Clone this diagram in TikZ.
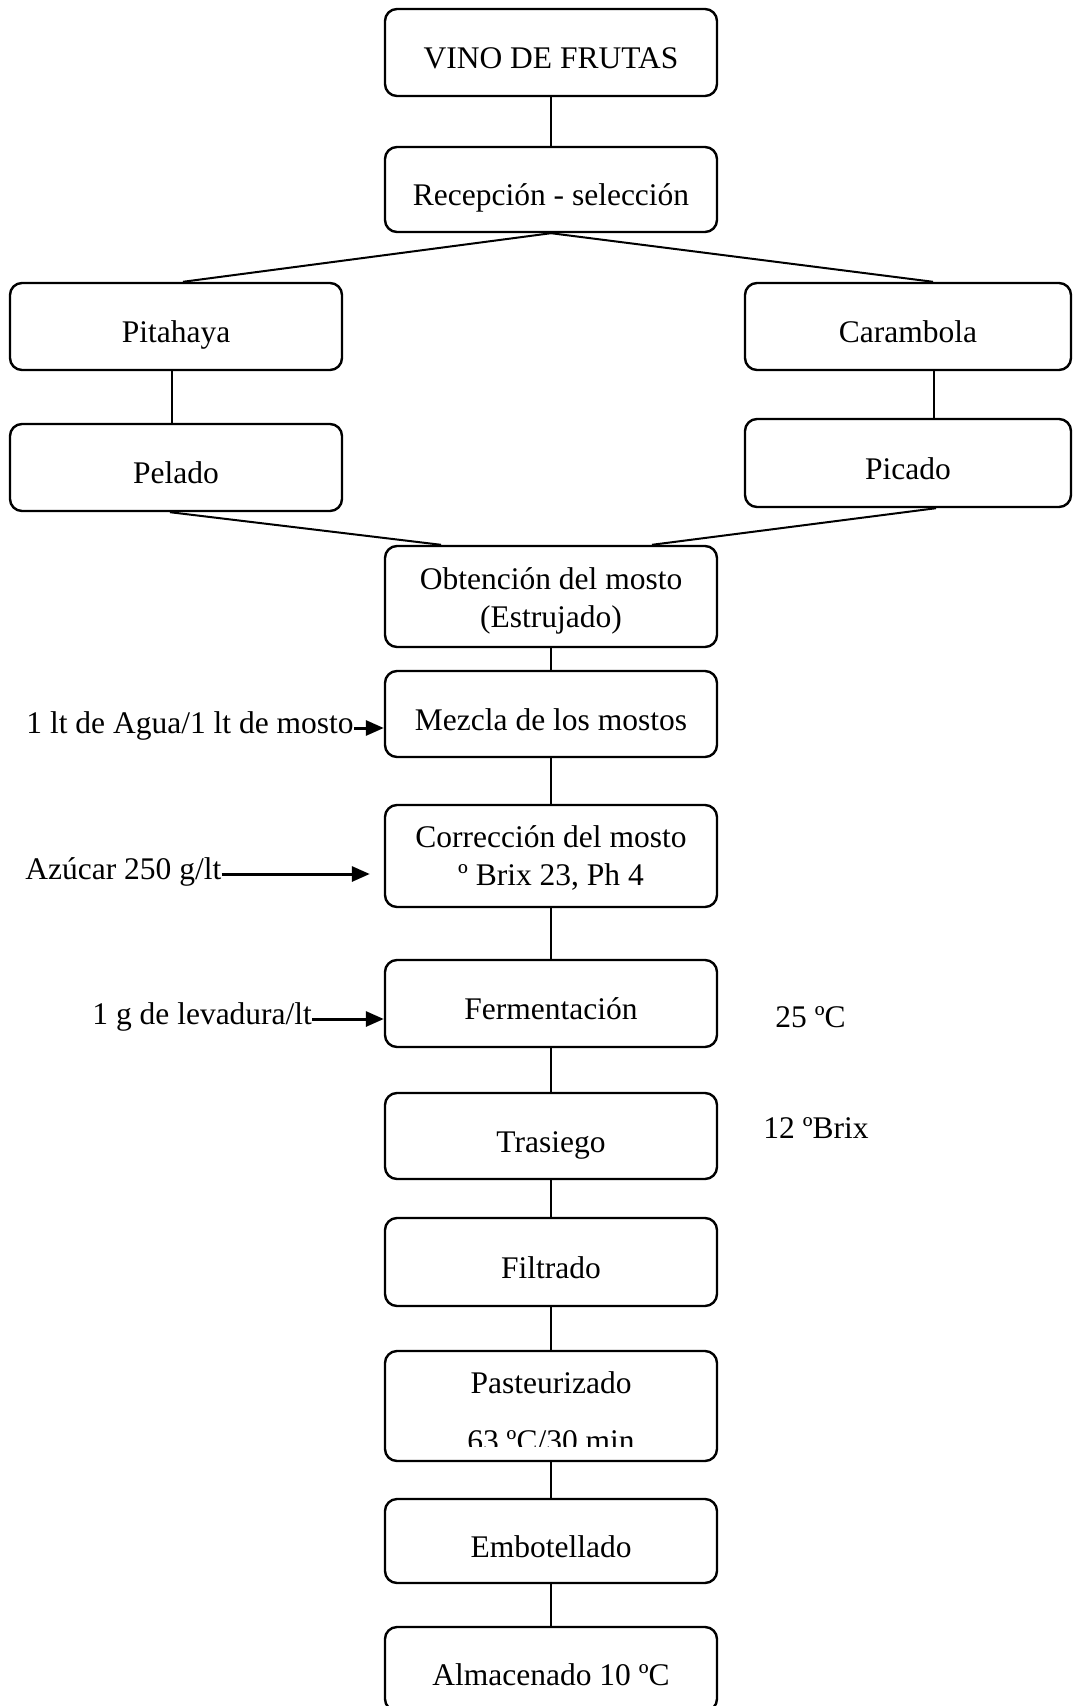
\documentclass[tikz,border=0pt]{standalone}
\usepackage{fontspec}
\setmainfont{Liberation Serif}
\usetikzlibrary{arrows.meta,calc}
\begin{document}
\begin{tikzpicture}[x=0.5pt,y=-0.5pt,
  every node/.style={font=\fontsize{15.75}{19}\selectfont, inner sep=0pt},
  box/.style={draw, line width=1.2pt, rounded corners=6pt, minimum width=166pt, text height=16pt, text depth=0pt},
  side/.style={text height=8pt, text depth=3pt},
  conn/.style={line width=1pt},
  arr/.style={line width=1.5pt, -{Triangle[length=9pt,width=7.5pt]}}
]
\useasboundingbox (0,0) rectangle (1072,1706);

% boxes
\node[box, minimum height=43.5pt] (vino) at (551,52.5) {VINO DE FRUTAS};
\node[box, minimum height=42.5pt] (rec) at (551,189.5) {Recepción - selección};
\node[box, minimum height=43.5pt] (pit) at (176,326.5) {Pitahaya};
\node[box, minimum height=43.5pt] (pel) at (176,467.5) {Pelado};
\node[box, minimum height=43.5pt, minimum width=163pt] (car) at (908,326.5) {Carambola};
\node[box, minimum height=44pt, minimum width=163pt] (pic) at (908,463) {Picado};
\node[box, minimum height=50.5pt] (obt) at (551,596.5) {};
\node[anchor=base] (obt1) at (551,589) {Obtención del mosto};
\node[anchor=base] (obt2) at (551,627) {(Estrujado)};
\node[box, minimum height=43pt] (mez) at (551,714) {Mezcla de los mostos};
\node[box, minimum height=51pt] (cor) at (551,856) {};
\node[anchor=base] (cor1) at (551,847) {Corrección del mosto};
\node[anchor=base] (cor2) at (551,885) {º Brix 23, Ph 4};
\node[box, minimum height=43.5pt] (fer) at (551,1003.5) {Fermentación};
\node[box, minimum height=43pt] (tra) at (551,1136) {Trasiego};
\node[box, minimum height=44pt] (fil) at (551,1262) {Filtrado};
\node[box, minimum height=55pt] (pas) at (551,1406) {};
\node[anchor=base] (pas1) at (551,1393) {Pasteurizado};
\begin{scope}
  \clip (380,1355) rectangle (720,1446);
  \node[anchor=base] (pas2) at (551,1451) {63 ºC/30 min};
\end{scope}
\node[box, minimum height=42pt] (emb) at (551,1541) {Embotellado};
\node[box, minimum height=42pt] (alm) at (551,1669) {Almacenado 10 ºC};

% side texts
\node[side, anchor=base west] (agua) at (26,733) {1 lt de Agua/1 lt de mosto};
\node[side, anchor=base west] (azu) at (25,879) {Azúcar 250 g/lt};
\node[side, anchor=base west] (lev) at (92,1024) {1 g de levadura/lt};
\node[anchor=base west] (t25) at (775,1027) {25 ºC};
\node[anchor=base west] (b12) at (763,1138) {12 ºBrix};

% connectors
\draw[conn] (vino) -- (rec);
\draw[conn] (rec.south) -- ([xshift=3.5pt]pit.north);
\draw[conn] (rec.south) -- ([xshift=12.5pt]car.north);
\draw[conn] ([xshift=-2pt]pit.south) -- ([xshift=-2pt]pel.north);
\draw[conn] ([xshift=13pt]car.south) -- ([xshift=13pt]pic.north);
\draw[conn] ([xshift=-3pt]pel.south) -- ([xshift=-55pt]obt.north);
\draw[conn] ([xshift=14pt]pic.south) -- ([xshift=50.5pt]obt.north);
\draw[conn] (obt) -- (mez);
\draw[conn] (mez) -- (cor);
\draw[conn] (cor) -- (fer);
\draw[conn] (fer) -- (tra);
\draw[conn] (tra) -- (fil);
\draw[conn] (fil) -- (pas);
\draw[conn] (pas) -- (emb);
\draw[conn] (emb) -- (alm);

% arrows
\draw[arr] (agua.east) -- (agua.east -| mez.west);
\draw[arr] (azu.east) -- ($(azu.east -| cor.west)+(-14,0)$);
\draw[arr] (lev.east) -- (lev.east -| fer.west);
\end{tikzpicture}
\end{document}
